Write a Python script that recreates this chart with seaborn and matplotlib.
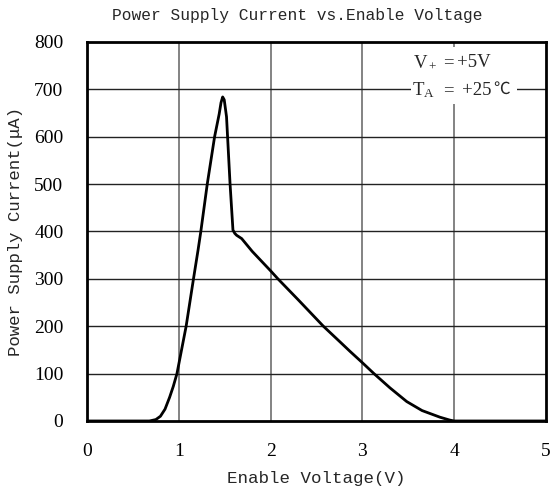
import matplotlib
matplotlib.use("Agg")
import matplotlib.pyplot as plt
import matplotlib.patches as mpatches
import seaborn as sns
import pandas as pd

# enable voltage (V) and supply current (uA)
enable_v = [0.0, 0.68, 0.75, 0.80, 0.85, 0.90, 0.94, 0.98, 1.08, 1.16, 1.21, 1.24,
            1.31, 1.39, 1.44, 1.46, 1.478, 1.495, 1.52, 1.558, 1.59, 1.61, 1.63,
            1.685, 1.80, 2.00, 2.08, 2.30, 2.575, 2.756, 2.865, 3.00, 3.126, 3.30,
            3.483, 3.65, 3.845, 3.95, 4.00, 5.00]
current_ua = [0, 0, 3, 10, 25, 50, 73, 100, 200, 300, 361, 400,
              500, 600, 648, 672, 684, 678, 642, 502, 403, 396, 392,
              385, 358, 317, 300, 256, 200, 167, 147, 123, 100, 70,
              41, 22, 8, 2, 0, 0]

x_ticks = [0, 1, 2, 3, 4, 5]
y_ticks = [0, 100, 200, 300, 400, 500, 600, 700, 800]

df = pd.DataFrame({"v": enable_v, "i": current_ua})

sns.set_theme(style="white")
plt.rcParams["font.family"] = ["Liberation Serif", "Noto Sans CJK SC", "DejaVu Sans"]
plt.rcParams["mathtext.fontset"] = "custom"
plt.rcParams["mathtext.rm"] = "Liberation Serif"
plt.rcParams["mathtext.it"] = "Liberation Serif"

mono = ["Liberation Mono", "Noto Sans CJK SC", "DejaVu Sans"]

fig = plt.figure(figsize=(5.52, 4.91), dpi=100)
ax = fig.add_axes([0.1576, 0.1426, 0.8315, 0.7719])

sns.lineplot(data=df, x="v", y="i", ax=ax, color="black", linewidth=2.0,
             sort=False, estimator=None, zorder=5)

ax.set_xlim(0, 5)
ax.set_ylim(0, 800)
ax.set_xticks(x_ticks)
ax.set_yticks(y_ticks)
ax.tick_params(axis="both", length=0, labelsize=14, colors="black")
ax.tick_params(axis="x", pad=16)
ax.tick_params(axis="y", pad=17)

# grid: grey verticals, dark horizontals
for xv in x_ticks[1:-1]:
    ax.axvline(xv, color="#7a7a7a", lw=1.3, zorder=1)
for yv in y_ticks[1:-1]:
    ax.axhline(yv, color="#222222", lw=1.0, zorder=1)

for sp in ax.spines.values():
    sp.set_color("black")
    sp.set_linewidth(2.0)
    sp.set_zorder(6)

# conditions box
ax.add_patch(mpatches.Rectangle((0.706, 0.836), 0.231, 0.151, transform=ax.transAxes,
                                facecolor="white", edgecolor="none", zorder=3))
kw = dict(transform=ax.transAxes, fontsize=13.5, ha="left", va="center", zorder=4)
ax.text(0.710, 0.946, r"V$_+$", **kw)
ax.text(0.776, 0.946, "=", **kw)
ax.text(0.807, 0.946, "+5V", **kw)
ax.text(0.708, 0.872, r"T$_\mathrm{A}$", **kw)
ax.text(0.776, 0.872, "=", **kw)
ax.text(0.818, 0.872, "+25", **kw)
ax.text(0.886, 0.874, "℃", transform=ax.transAxes, fontsize=12,
        family=["Noto Sans CJK SC", "DejaVu Sans"], ha="left", va="center", zorder=4)

ax.set_xlabel("Enable Voltage(V)", family=mono, fontsize=12.6, labelpad=8)
ax.set_ylabel("Power Supply Current(μA)", family=mono, fontsize=12.5, labelpad=8)
fig.text(0.538, 0.969, "Power Supply Current vs.Enable Voltage", family=mono,
         fontsize=11.7, ha="center", va="center")

fig.savefig("out.png", dpi=100)
